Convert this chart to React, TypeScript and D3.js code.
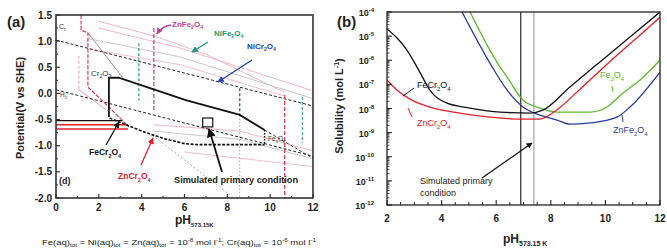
import React from "react";
import * as d3 from "d3";

type Pt = [number, number];

// ---------------- Panel (a) data (pH, E / V vs SHE) ----------------
const aPhTicks = [0, 2, 4, 6, 8, 10, 12];
const aETicks = [1.5, 1.0, 0.5, 0.0, -0.5, -1.0, -1.5, -2.0];
const aETickLabels = ["1.5", "1.0", "0.5", "0.0", "-0.5", "-1.0", "-1.5", "-2.0"];

const o2Line: Pt[] = [[0, 1.02], [12, -0.24]];
const h2Line: Pt[] = [[0, 0.07], [12, -1.2]];
const feCrTop: Pt[] = [[2.47, -0.45], [2.47, 0.3], [2.93, 0.3], [6.06, -0.13], [8.58, -0.41], [9.74, -0.7]];
const feCrRight: Pt[] = [[9.74, -0.7], [9.74, -0.98]];
const feCrBottom: Pt[] = [[2.5, -0.47], [4.0, -0.72], [5.0, -0.86], [6.0, -0.96], [6.6, -0.98], [9.74, -0.98]];
const fe3o4Ext: Pt[] = [[9.74, -0.7], [12, -1.24]];
const feCrHoriz: Pt[] = [[0, -0.52], [3.1, -0.52]];
const znCrHoriz1: Pt[] = [[0, -0.6], [3.36, -0.6]];
const znCrHoriz2: Pt[] = [[0, -0.68], [3.36, -0.68]];
const znCrBound: Pt[] = [[1.17, 1.5], [1.17, 1.21], [1.49, 1.16], [1.49, 0.12], [2.47, -0.26], [3.4, -0.64]];
const pinkLeftDash: Pt[] = [[1.07, 0.72], [1.07, 0.07]];
const pinkLeftDiag: Pt[] = [[1.07, 0.07], [2.47, -0.35]];
const cr2o3Line: Pt[] = [[1.49, 1.16], [3.12, 0.3]];
const znFeVert: Pt[] = [[4.57, 1.25], [4.57, -0.32]];
const niFeVertL: Pt[] = [[3.87, 0.96], [3.87, -0.13]];
const niFeVertR: Pt[] = [[11.5, -0.07], [11.5, -0.95]];
const niCrVert: Pt[] = [[8.58, 0.1], [8.58, -0.41]];
const niCrDotted: Pt[] = [[8.58, -0.41], [8.58, -2.0]];
const znCrVertR: Pt[] = [[10.68, -0.03], [10.68, -2.0]];
const lightUpper1: Pt[] = [[2.0, 1.38], [4.57, 1.1], [7.0, 0.75], [10.68, 0.02]];
const lightUpper2: Pt[] = [[2.0, 1.25], [5.78, 0.87], [12, 0.05]];
const lightUpper3: Pt[] = [[1.5, 1.05], [5.78, 0.7], [12, -0.1]];
const lightUpper4: Pt[] = [[1.5, 0.85], [5.78, 0.55], [10.68, -0.05]];
const lightLower1: Pt[] = [[4.57, -0.6], [8.58, -0.72], [12, -1.1]];
const lightLower2: Pt[] = [[4.57, -0.72], [8.58, -0.88], [12, -1.25]];
const lightLower3: Pt[] = [[6.0, -1.12], [12, -1.4]];
const lightLower4: Pt[] = [[4.5, -0.8], [8.3, -2.0]];
const simRect: Pt[] = [[6.85, -0.47], [7.32, -0.64]];

// ---------------- Panel (b) data (pH, log10 solubility) ----------------
const bPhTicks = [2, 4, 6, 8, 10, 12];
const bExpTicks = [-4, -5, -6, -7, -8, -9, -10, -11, -12];

const feCr2O4Ph = [2.0, 2.37, 2.73, 3.2, 3.57, 4.2, 5.04, 6.14, 7.24, 7.71, 8.7, 9.8, 10.9, 12];
const feCr2O4Log = [-4.7, -5.08, -5.58, -6.49, -7.24, -7.78, -7.98, -8.15, -8.19, -8.07, -7.11, -6.07, -5.04, -4.0];
const znCr2O4Ph = [2.0, 2.37, 2.84, 3.57, 4.67, 5.77, 6.87, 7.6, 8.23, 9.07, 10.17, 11.27, 12];
const znCr2O4Log = [-6.82, -7.24, -7.61, -7.94, -8.19, -8.36, -8.44, -8.44, -8.05, -7.2, -6.05, -4.95, -4.22];
const fe3O4Ph = [5.04, 5.77, 6.14, 6.4, 6.98, 7.6, 8.23, 9.44, 10.06, 10.64, 11.27, 12];
const fe3O4Log = [-4.0, -5.58, -6.28, -6.7, -7.65, -7.98, -8.15, -8.15, -7.94, -7.36, -6.82, -5.99];
const znFe2O4Ph = [4.75, 5.77, 6.4, 6.98, 8.23, 8.7, 9.44, 10.42, 10.9, 12];
const znFe2O4Log = [-4.0, -6.12, -7.24, -7.94, -8.48, -8.65, -8.6, -8.36, -7.94, -6.49];
const simPh = 6.9;
const simPh2 = 7.38;

const FONT = "'Liberation Sans', Arial, Helvetica, sans-serif";

function Chem(props: { x: number; y: number; f: string; size: number; fill?: string; weight?: string; anchor?: string }) {
  const { x, y, f, size, fill = "#111", weight = "bold", anchor = "start" } = props;
  const parts = f.match(/\d+|\D+/g) || [];
  let shifted = false;
  const nodes: any[] = [];
  parts.forEach((p, i) => {
    const isNum = /^\d+$/.test(p);
    let dy = 0;
    if (isNum && !shifted) { dy = size * 0.3; shifted = true; }
    else if (!isNum && shifted) { dy = -size * 0.3; shifted = false; }
    nodes.push(<tspan key={i} dy={dy} fontSize={isNum ? size * 0.65 : size}>{p}</tspan>);
  });
  return (
    <text x={x} y={y} fontSize={size} fill={fill} fontWeight={weight} textAnchor={anchor as any} fontFamily={FONT}>
      {nodes}
    </text>
  );
}

export default function App() {
  const xA = d3.scaleLinear().domain([0, 12]).range([56, 313]);
  const yA = d3.scaleLinear().domain([-2, 1.5]).range([198, 15]);
  const xB = d3.scaleLinear().domain([2, 12]).range([387, 660]);
  const yB = d3.scaleLog().domain([1e-12, 1e-4]).range([205, 12]);

  const lineA = d3.line<Pt>().x((d) => xA(d[0])).y((d) => yA(d[1]));
  const lineB = d3
    .line<[number, number]>()
    .x((d) => xB(d[0]))
    .y((d) => yB(Math.pow(10, d[1])))
    .curve(d3.curveMonotoneX);
  const zipB = (ph: number[], lg: number[]) => ph.map((p, i) => [p, lg[i]] as [number, number]);

  const P = (pts: Pt[], stroke: string, w: number, dash?: string) => (
    <path d={lineA(pts) || ""} fill="none" stroke={stroke} strokeWidth={w} strokeDasharray={dash} />
  );

  const aMinorX = d3.range(1, 12, 2);
  const aMinorY = d3.range(-1.75, 1.5, 0.5);
  const bMinorX = d3.range(2.5, 12, 0.5).filter((v) => Math.abs(v - Math.round(v / 2) * 2) > 0.01);
  const bMinorY: number[] = [];
  for (let e = -12; e < -4; e++) for (let m = 2; m <= 9; m++) bMinorY.push(m * Math.pow(10, e));

  const pink = "#f2b6c6";
  const lgray = "#c8c8cc";

  return (
    <svg
      width={667}
      height={250}
      style={{ display: "block", background: "#fff", position: "absolute", left: 0, top: 0 }}
      fontFamily={FONT}
    >
      <defs>
        <clipPath id="clipA"><rect x={56} y={15} width={257} height={183} /></clipPath>
        <clipPath id="clipB"><rect x={387} y={12} width={273} height={193} /></clipPath>
        {[["k", "#111"], ["r", "#e8202a"], ["m", "#c0409a"], ["t", "#1a9a7a"], ["b", "#2040c0"]].map(([id, c]) => (
          <marker key={id} id={"arr" + id} viewBox="0 0 10 10" refX={9} refY={5} markerWidth={5} markerHeight={5} orient="auto">
            <path d="M0,0 L10,5 L0,10 z" fill={c} />
          </marker>
        ))}
      </defs>

      {/* ================= Panel (a) ================= */}
      <g clipPath="url(#clipA)">
        {P(lightUpper1, pink, 1)}
        {P(lightUpper2, pink, 1)}
        {P(lightUpper3, lgray, 1)}
        {P(lightUpper4, pink, 0.9)}
        {P(lightLower1, pink, 1)}
        {P(lightLower2, lgray, 1)}
        {P(lightLower3, pink, 0.9)}
        {P(lightLower4, "#aaa", 1, "2,2")}
        {P(cr2o3Line, "#a48aa8", 1)}
        {P(pinkLeftDash, "#e7a0b4", 1, "3,2")}
        {P(pinkLeftDiag, "#e7a0b4", 1)}
        {P(o2Line, "#222", 1, "3,2")}
        {P(h2Line, "#222", 1, "3,2")}
        {P(znCrBound, "#e0405a", 1.2, "4,1.5")}
        {P(znFeVert, "#c0409a", 1.2, "4,2")}
        {P(niFeVertL, "#1a9a7a", 1.2, "3,2")}
        {P(niFeVertR, "#1a9a7a", 1, "3,2")}
        {P(niCrVert, "#2040c0", 1.2, "3,2")}
        {P(niCrDotted, "#9aa0b8", 1, "1.5,2")}
        {P(znCrVertR, "#e03048", 1.2, "4,2")}
        {P(feCrHoriz, "#111", 1.4)}
        {P(znCrHoriz1, "#e8202a", 1.5)}
        {P(znCrHoriz2, "#e8202a", 1.5)}
        {P(feCrTop, "#111", 1.8)}
        {P(feCrRight, "#111", 1.5, "1.5,1.5")}
        {P(feCrBottom, "#111", 1.6, "3,1.5")}
        {P(fe3o4Ext, "#333", 1, "3,2")}
        <rect
          x={xA(simRect[0][0])}
          y={yA(simRect[0][1])}
          width={xA(simRect[1][0]) - xA(simRect[0][0])}
          height={yA(simRect[1][1]) - yA(simRect[0][1])}
          fill="#fff"
          stroke="#111"
          strokeWidth={1.2}
        />
      </g>
      <rect x={56} y={15} width={257} height={183} fill="none" stroke="#333" strokeWidth={1.6} />
      {aPhTicks.map((t) => (
        <g key={"ax" + t}>
          <line x1={xA(t)} x2={xA(t)} y1={198} y2={194} stroke="#333" strokeWidth={1.2} />
          <text x={xA(t)} y={211} fontSize={10} fontWeight="bold" textAnchor="middle" fill="#222">{t}</text>
        </g>
      ))}
      {aMinorX.map((t) => (
        <line key={"axm" + t} x1={xA(t)} x2={xA(t)} y1={198} y2={196} stroke="#333" strokeWidth={1} />
      ))}
      {aETicks.map((t, i) => (
        <g key={"ay" + t}>
          <line x1={56} x2={60} y1={yA(t)} y2={yA(t)} stroke="#333" strokeWidth={1.2} />
          <text x={52} y={yA(t) + 3.5} fontSize={10} fontWeight="bold" textAnchor="end" fill="#222">{aETickLabels[i]}</text>
        </g>
      ))}
      {aMinorY.map((t) => (
        <line key={"aym" + t} x1={56} x2={58} y1={yA(t)} y2={yA(t)} stroke="#333" strokeWidth={1} />
      ))}
      <text x={7} y={27} fontSize={15} fontWeight="bold" fill="#222">(a)</text>
      <text transform="translate(24,108) rotate(-90)" fontSize={11} fontWeight="bold" textAnchor="middle" fill="#222">
        Potential(V vs SHE)
      </text>
      <text x={175} y={224} fontSize={12} fontWeight="bold" fill="#222">
        pH<tspan fontSize={6} dy={3}>573.15K</tspan>
      </text>
      <text x={42} y={245} fontSize={7.5} fill="#222" textLength={274} lengthAdjust="spacingAndGlyphs">
        Fe(aq)<tspan fontSize={5} dy={2}>tot</tspan>
        <tspan dy={-2}> = Ni(aq)</tspan><tspan fontSize={5} dy={2}>tot</tspan>
        <tspan dy={-2}> = Zn(aq)</tspan><tspan fontSize={5} dy={2}>tot</tspan>
        <tspan dy={-2}> = 10</tspan><tspan fontSize={5} dy={-3}>-8</tspan>
        <tspan dy={3}> mol l</tspan><tspan fontSize={5} dy={-3}>-1</tspan>
        <tspan dy={3}>; Cr(aq)</tspan><tspan fontSize={5} dy={2}>tot</tspan>
        <tspan dy={-2}> = 10</tspan><tspan fontSize={5} dy={-3}>-6</tspan>
        <tspan dy={3}> mol l</tspan><tspan fontSize={5} dy={-3}>-1</tspan>
      </text>
      <text x={59} y={29} fontSize={7} fill="#333">C<tspan fontSize={5} dy={2}>r</tspan></text>
      <Chem x={91} y={76} f="Cr2O3" size={8} fill="#333" weight="normal" />
      <Chem x={60} y={97} f="H2" size={6.5} fill="#333" weight="normal" />
      <text x={59} y={184} fontSize={9} fontWeight="bold" fill="#222">(d)</text>
      <Chem x={89} y={155} f="FeCr2O4" size={8.5} fill="#111" />
      <Chem x={118} y={179} f="ZnCr2O4" size={8.5} fill="#e8202a" />
      <Chem x={268} y={141} f="Fe3O4" size={6.5} fill="#333" weight="normal" />
      <Chem x={172} y={27} f="ZnFe2O4" size={8} fill="#c0409a" />
      <Chem x={214} y={36} f="NiFe2O4" size={8} fill="#1a9a7a" />
      <Chem x={247} y={49} f="NiCr2O4" size={8} fill="#2040c0" />
      <text x={174} y={183} fontSize={9.2} fontWeight="bold" fill="#222">Simulated primary condition</text>
      <path d="M171,25 Q162,26 157,34" fill="none" stroke="#c0409a" strokeWidth={1.3} markerEnd="url(#arrm)" />
      <line x1={208} y1={42} x2={192} y2={52} stroke="#1a9a7a" strokeWidth={1.3} markerEnd="url(#arrt)" />
      <line x1={252} y1={60} x2={218} y2={82} stroke="#2040c0" strokeWidth={1.3} markerEnd="url(#arrb)" />
      <line x1={106} y1={145} x2={119} y2={122} stroke="#111" strokeWidth={1.3} markerEnd="url(#arrk)" />
      <line x1={141} y1={165} x2={153} y2={138} stroke="#e8202a" strokeWidth={1.3} markerEnd="url(#arrr)" />
      <line x1={222} y1={172} x2={209} y2={129} stroke="#111" strokeWidth={1.8} markerEnd="url(#arrk)" />

      {/* ================= Panel (b) ================= */}
      <g clipPath="url(#clipB)">
        <line x1={xB(simPh2)} x2={xB(simPh2)} y1={12} y2={205} stroke="#b8b8b8" strokeWidth={1.6} />
        <line x1={xB(simPh)} x2={xB(simPh)} y1={12} y2={205} stroke="#111" strokeWidth={1.1} />
        <path d={lineB(zipB(fe3O4Ph, fe3O4Log)) || ""} fill="none" stroke="#5cb82e" strokeWidth={1.3} />
        <path d={lineB(zipB(znFe2O4Ph, znFe2O4Log)) || ""} fill="none" stroke="#2a3a9c" strokeWidth={1.3} />
        <path d={lineB(zipB(znCr2O4Ph, znCr2O4Log)) || ""} fill="none" stroke="#e8202a" strokeWidth={1.3} />
        <path d={lineB(zipB(feCr2O4Ph, feCr2O4Log)) || ""} fill="none" stroke="#111" strokeWidth={1.3} />
      </g>
      <rect x={387} y={12} width={273} height={193} fill="none" stroke="#222" strokeWidth={1.3} />
      {bPhTicks.map((t) => (
        <g key={"bx" + t}>
          <line x1={xB(t)} x2={xB(t)} y1={205} y2={200} stroke="#222" strokeWidth={1.1} />
          <text x={xB(t)} y={222} fontSize={10} fontWeight="bold" textAnchor="middle" fill="#222">{t}</text>
        </g>
      ))}
      {bMinorX.map((t) => (
        <line key={"bxm" + t} x1={xB(t)} x2={xB(t)} y1={205} y2={202} stroke="#222" strokeWidth={1} />
      ))}
      {bExpTicks.map((e) => (
        <g key={"by" + e}>
          <line x1={387} x2={392} y1={yB(Math.pow(10, e))} y2={yB(Math.pow(10, e))} stroke="#222" strokeWidth={1.1} />
          <text x={374} y={yB(Math.pow(10, e)) + 4} fontSize={9} fontWeight="bold" textAnchor="end" fill="#222">
            10<tspan fontSize={6} dy={-4}>{e}</tspan>
          </text>
        </g>
      ))}
      {bMinorY.map((v, i) => (
        <line key={"bym" + i} x1={387} x2={389.5} y1={yB(v)} y2={yB(v)} stroke="#222" strokeWidth={0.8} />
      ))}
      <text x={337} y={27} fontSize={15} fontWeight="bold" fill="#222">(b)</text>
      <text transform="translate(343,106) rotate(-90)" fontSize={11} fontWeight="bold" textAnchor="middle" fill="#222">
        Solubility (mol L<tspan fontSize={7} dy={-4}>-1</tspan><tspan dy={4}>)</tspan>
      </text>
      <text x={503} y={243} fontSize={12} fontWeight="bold" fill="#222">
        pH<tspan fontSize={7} dy={3}>573.15 K</tspan>
      </text>
      <Chem x={417} y={88} f="FeCr2O4" size={9} fill="#111" weight="normal" />
      <line x1={414} y1={88} x2={403} y2={96} stroke="#111" strokeWidth={1} />
      <Chem x={417} y={126} f="ZnCr2O4" size={9} fill="#e8202a" weight="normal" />
      <line x1={412} y1={117} x2={408} y2={108} stroke="#e8202a" strokeWidth={1} />
      <Chem x={600} y={78} f="Fe3O4" size={9} fill="#5cb82e" weight="normal" />
      <line x1={612} y1={86} x2={613} y2={92} stroke="#5cb82e" strokeWidth={1} />
      <Chem x={613} y={133} f="ZnFe2O4" size={9} fill="#2a3a9c" weight="normal" />
      <line x1={622} y1={115} x2={623} y2={122} stroke="#2a3a9c" strokeWidth={1} />
      <text x={420} y={184} fontSize={9} fill="#222">Simulated primary</text>
      <text x={420} y={196} fontSize={9} fill="#222">condition</text>
      <line x1={482} y1={178} x2={532} y2={143} stroke="#111" strokeWidth={1.2} markerEnd="url(#arrk)" />
    </svg>
  );
}
